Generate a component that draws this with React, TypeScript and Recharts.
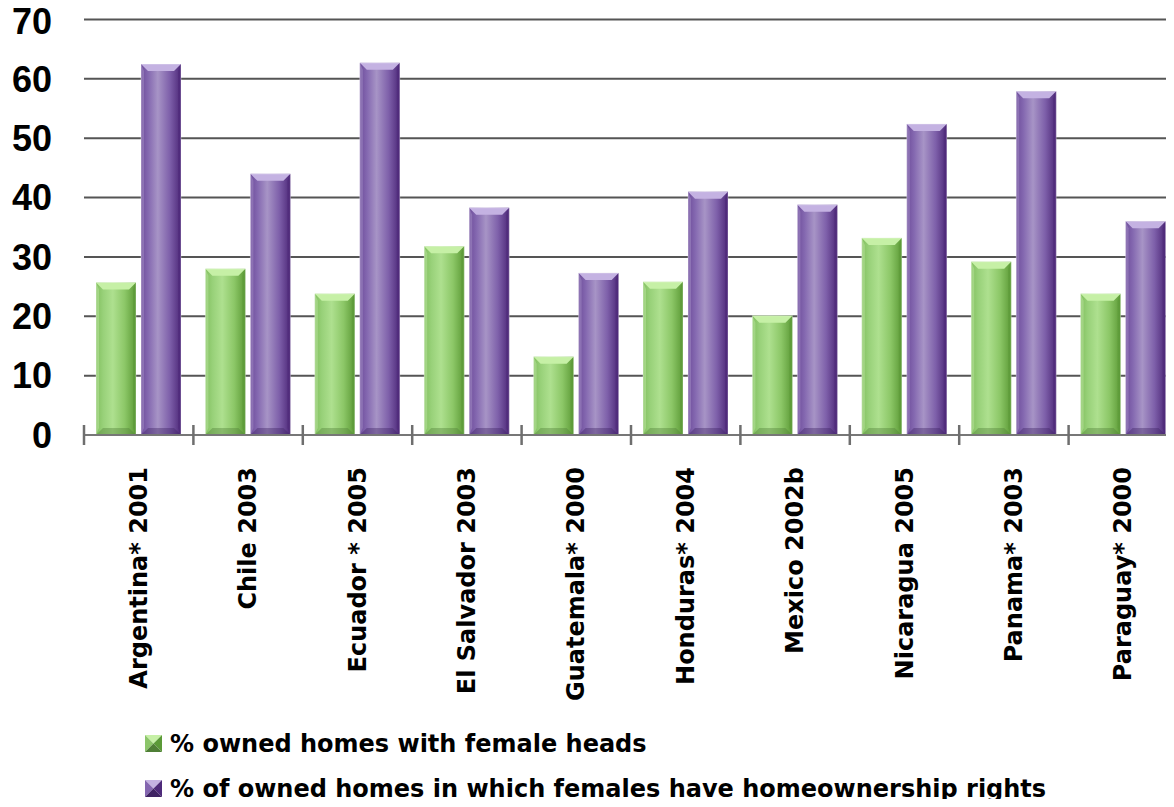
import { BarChart, Bar, XAxis, YAxis, CartesianGrid, Legend } from 'recharts';

const countries = [
  'Argentina* 2001',
  'Chile 2003',
  'Ecuador * 2005',
  'El Salvador 2003',
  'Guatemala* 2000',
  'Honduras* 2004',
  'Mexico 2002b',
  'Nicaragua 2005',
  'Panama* 2003',
  'Paraguay* 2000',
];

const femaleHeads = [25.7, 28.0, 23.8, 31.8, 13.2, 25.8, 20.1, 33.2, 29.2, 23.8];
const ownershipRights = [62.5, 44.0, 62.7, 38.3, 27.3, 41.0, 38.8, 52.4, 57.9, 36.0];

const yTicks = [0, 10, 20, 30, 40, 50, 60, 70];

const HEADS_LABEL = '% owned homes with female heads';
const RIGHTS_LABEL = '% of owned homes in which females have homeownership rights';

const chartData = countries.map((name, i) => ({
  name,
  heads: femaleHeads[i],
  rights: ownershipRights[i],
}));

const palette = {
  heads: { grad: 'gradHeads', top: '#c6f0a6', bottom: '#4f7f36', side: '#d3f3bc', mid: '#8cc56a', dark: '#5b9a38' },
  rights: { grad: 'gradRights', top: '#c4b2e2', bottom: '#3f2363', side: '#b9a8d6', mid: '#8466b0', dark: '#4e2a7a' },
};

type Variant = keyof typeof palette;

function BevelBar(props: any) {
  const { x, y, width, height, variant } = props;
  if (!height || height <= 0) return null;
  const c = palette[variant as Variant];
  const b = Math.min(7, height / 2);
  return (
    <g>
      <rect x={x} y={y} width={width} height={height} fill={`url(#${c.grad})`} />
      {/* top bevel */}
      <polygon
        points={`${x},${y} ${x + width},${y} ${x + width - b},${y + b} ${x + b},${y + b}`}
        fill={c.top}
      />
      {/* bottom shade */}
      <polygon
        points={`${x},${y + height} ${x + width},${y + height} ${x + width - b},${y + height - b} ${x + b},${y + height - b}`}
        fill={c.bottom}
        opacity={0.4}
      />
      {/* side bevels */}
      <polygon
        points={`${x},${y} ${x + 3},${y + b} ${x + 3},${y + height - b} ${x},${y + height}`}
        fill={c.side}
        opacity={0.35}
      />
      <polygon
        points={`${x + width},${y} ${x + width - 3},${y + b} ${x + width - 3},${y + height - b} ${x + width},${y + height}`}
        fill={c.dark}
        opacity={0.6}
      />
      <rect x={x} y={y} width={width} height={height} fill="none" stroke="#ffffff" strokeOpacity={0.35} strokeWidth={1} />
    </g>
  );
}

function CountryTick(props: any) {
  const { x, y, payload } = props;
  const half = payload.offset ?? 54.7;
  return (
    <g>
      <line x1={x - half} x2={x - half} y1={y - 10} y2={y + 10} stroke="#6e6e6e" strokeWidth={2.5} />
      <text
        transform={`translate(${x + 8},${y + 32}) rotate(-90)`}
        textAnchor="end"
        fontFamily="'DejaVu Sans', sans-serif"
        fontWeight="bold"
        fontSize={24}
        fill="#000"
      >
        {payload.value}
      </text>
    </g>
  );
}

function LegendIcon({ variant }: { variant: Variant }) {
  const c = palette[variant];
  const s = 17;
  const m = s / 2;
  return (
    <svg width={s} height={s} style={{ display: 'block', marginRight: 8 }}>
      <polygon points={`0,0 ${s},0 ${m},${m}`} fill={c.top} />
      <polygon points={`0,0 ${m},${m} 0,${s}`} fill={c.mid} />
      <polygon points={`${s},0 ${s},${s} ${m},${m}`} fill={c.dark} />
      <polygon points={`0,${s} ${s},${s} ${m},${m}`} fill={c.bottom} />
    </svg>
  );
}

function ChartLegend() {
  const rows: [Variant, string][] = [
    ['heads', HEADS_LABEL],
    ['rights', RIGHTS_LABEL],
  ];
  return (
    <div>
      {rows.map(([v, label]) => (
        <div key={v} style={{ display: 'flex', alignItems: 'center', height: 45 }}>
          <LegendIcon variant={v} />
          <span
            style={{
              fontFamily: "'DejaVu Sans', sans-serif",
              fontWeight: 'bold',
              fontSize: 24,
              lineHeight: '28px',
              color: '#000',
              whiteSpace: 'nowrap',
            }}
          >
            {label}
          </span>
        </div>
      ))}
    </div>
  );
}

export default function App() {
  return (
    <div style={{ margin: -8, width: 1174, height: 807, overflow: 'hidden', background: '#fff', position: 'relative' }}>
      <BarChart
        width={1178}
        height={807}
        data={chartData}
        margin={{ top: 19.5, right: 0, bottom: 0, left: 0 }}
        barCategoryGap={12}
        barGap={5}
      >
        <defs>
          <linearGradient id="gradHeads" x1="0" y1="0" x2="1" y2="0">
            <stop offset="0" stopColor="#82c05f" />
            <stop offset="0.18" stopColor="#98d179" />
            <stop offset="0.42" stopColor="#aee08f" />
            <stop offset="0.72" stopColor="#8cc767" />
            <stop offset="1" stopColor="#5c9a36" />
          </linearGradient>
          <linearGradient id="gradRights" x1="0" y1="0" x2="1" y2="0">
            <stop offset="0" stopColor="#6e4d9b" />
            <stop offset="0.18" stopColor="#8468b0" />
            <stop offset="0.42" stopColor="#a794c6" />
            <stop offset="0.72" stopColor="#7e60aa" />
            <stop offset="1" stopColor="#4d2878" />
          </linearGradient>
        </defs>
        <CartesianGrid vertical={false} stroke="#555" strokeWidth={2} />
        <XAxis
          dataKey="name"
          interval={0}
          height={372}
          axisLine={{ stroke: '#777', strokeWidth: 2 }}
          tickLine={false}
          tickSize={0}
          tickMargin={0}
          tick={<CountryTick />}
        />
        <YAxis
          width={84}
          domain={[0, 70]}
          ticks={yTicks}
          axisLine={false}
          tickLine={false}
          tickSize={0}
          tickMargin={32}
          tick={{ fill: '#000', fontSize: 36, fontWeight: 'bold', fontFamily: "'Liberation Sans', sans-serif" }}
        />
        <Legend
          layout="vertical"
          align="center"
          verticalAlign="middle"
          wrapperStyle={{ top: 721, left: 145, width: 'auto' }}
          content={() => <ChartLegend />}
        />
        <Bar
          dataKey="heads"
          name={HEADS_LABEL}
          fill="#8cc56a"
          isAnimationActive={false}
          shape={(p: any) => <BevelBar {...p} variant="heads" />}
        />
        <Bar
          dataKey="rights"
          name={RIGHTS_LABEL}
          fill="#8466b0"
          isAnimationActive={false}
          shape={(p: any) => <BevelBar {...p} variant="rights" />}
        />
      </BarChart>
    </div>
  );
}
